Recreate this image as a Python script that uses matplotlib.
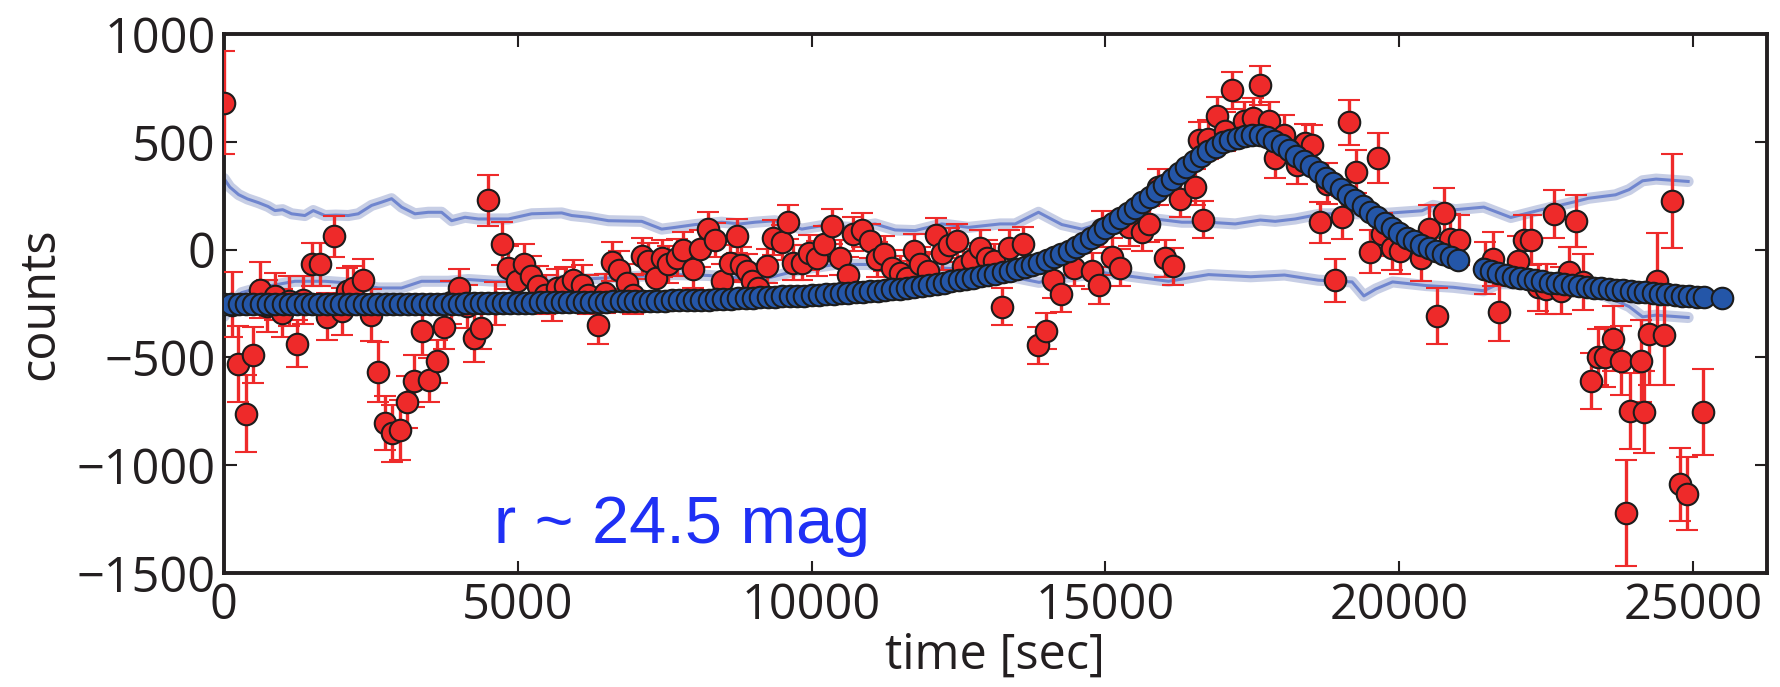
import matplotlib
matplotlib.use("Agg")
import matplotlib.pyplot as plt

plt.rcParams['font.family'] = ['Open Sans', 'DejaVu Sans']

# ---------------- data ----------------
t_obs = [0, 140, 244, 369, 488, 612, 740, 868, 981, 1110, 1237, 1349, 1492, 1634, 1747,
         1872, 2003, 2088, 2201, 2360, 2496, 2615, 2740, 2865, 2995, 3120, 3239, 3364,
         3495, 3619, 3744, 3870, 4000, 4130, 4250, 4380, 4500, 4620, 4726, 4840, 4981,
         5113, 5226, 5350, 5464, 5580, 5663, 5804, 5946, 6088, 6202, 6361, 6485, 6599,
         6724, 6854, 6967, 7108, 7222, 7352, 7449, 7562, 7704, 7817, 7987, 8101, 8232,
         8357, 8470, 8612, 8726, 8790, 8896, 8981, 9094, 9236, 9350, 9491, 9605, 9690,
         9832, 9957, 10087, 10218, 10354, 10484, 10615, 10711, 10853, 10995, 11108,
         11239, 11364, 11506, 11619, 11750, 11846, 11988, 12119, 12215, 12329, 12471,
         12584, 12726, 12868, 12981, 13110, 13236, 13350, 13605, 13860, 13985, 14115,
         14240, 14456, 14768, 14882, 14938, 15109, 15250, 15392, 15619, 15744, 15886,
         16016, 16141, 16272, 16516, 16595, 16652, 16743, 16896, 17027, 17152, 17350,
         17504, 17635, 17775, 17888, 18030, 18257, 18398, 18511, 18642, 18766, 18897,
         19022, 19147, 19261, 19505, 19636, 19704, 19874, 20016, 20373, 20498, 20640,
         20765, 20867, 21009, 21450, 21600, 21690, 22011, 22126, 22241, 22356, 22500,
         22632, 22759, 22891, 23006, 23132, 23264, 23379, 23506, 23638, 23764, 23860,
         23920, 24110, 24165, 24253, 24385, 24511, 24638, 24770, 24902, 25161]
counts = [681, -255, -530, -761, -491, -186, -262, -217, -295, -238, -436, -233, -69, -69,
          -311, 61, -287, -194, -178, -142, -303, -569, -806, -853, -837, -706, -611, -378,
          -605, -519, -359, -245, -178, -262, -410, -363, 228, -250, 28, -84, -147,
          -69, -123, -170, -209, -240, -178, -170, -139, -162, -209, -350, -202, -56,
          -95, -155, -209, -30, -53, -131, -41, -69, -37, -2, -92, 5, 95,
          44, -147, -61, 64, -70, -100, -147, -178, -77, 56, 33, 127, -61,
          -61, -14, -41, 28, 108, -37, -116, 72, 92, 41, -45,
          -19, -84, -108, -131, -6, -66, -100, 67, -14, 22, 41,
          -77, -50, 9, -37, -53, -264, 9, 25, -444, -378, -139,
          -205, -84, -100, -166, 95, -33, -84, 103, 80, 119, 291,
          -41, -77, 236, 291, 509, 139, 511, 619, 548, 739, 595,
          611, 763, 595, 423, 533, 392, 494, 486, 127, 306, -142,
          150, 591, 361, -9, 423, 72, 9, -6, -37, 95, -306,
          169, 48, 44, -86, -45, -288, -53, 44, 44, -175, -183,
          165, -191, -102, 133, -150, -608, -498, -498, -413, -515, -1223,
          -749, -515, -752, -393, -147, -398, 227, -1089, -1133, -752]
count_err = [239, 150, 175, 180, 130, 130, 120, 110, 110, 115, 110, 110, 100, 100, 110,
             95, 110, 110, 100, 100, 120, 140, 125, 130, 140, 120, 120, 110,
             100, 100, 100, 100, 90, 100, 110, 100, 120, 100, 100, 100, 95,
             95, 95, 95, 90, 90, 90, 90, 90, 90, 90, 90, 90, 90,
             90, 90, 90, 85, 85, 85, 85, 85, 85, 85, 85, 85, 80,
             80, 80, 80, 80, 80, 80, 80, 80, 80, 80, 80, 80, 80,
             80, 80, 80, 80, 80, 80, 80, 80, 80, 80, 80,
             80, 80, 80, 80, 80, 80, 80, 80, 80, 80, 80,
             80, 80, 80, 80, 80, 85, 80, 80, 85, 85, 85,
             85, 85, 85, 85, 85, 85, 85, 85, 85, 85, 85,
             85, 85, 85, 85, 85, 85, 90, 90, 90, 85, 90,
             90, 90, 90, 90, 90, 90, 90, 90, 95, 95, 100,
             100, 104, 100, 100, 116, 100, 105, 105, 110, 110, 130,
             115, 115, 115, 120, 125, 137, 115, 115, 115, 110, 115,
             113, 110, 115, 120, 130, 130, 130, 140, 150, 160, 245,
             175, 190, 190, 235, 226, 230, 218, 170, 170, 200]

model_t = [0, 125, 250, 375, 500, 625, 750, 875, 1000, 1125, 1250, 1375, 1500, 1625, 1750,
           1875, 2000, 2125, 2250, 2375, 2500, 2625, 2750, 2875, 3000, 3125, 3250, 3375,
           3500, 3625, 3750, 3875, 4000, 4125, 4250, 4375, 4500, 4625, 4750, 4875, 5000,
           5125, 5250, 5375, 5500, 5625, 5750, 5875, 6000, 6125, 6250, 6375, 6500, 6625,
           6750, 6875, 7000, 7125, 7250, 7375, 7500, 7625, 7750, 7875, 8000, 8125, 8250,
           8375, 8500, 8625, 8750, 8875, 9000, 9125, 9250, 9375, 9500, 9625, 9750, 9875,
           10000, 10125, 10250, 10375, 10500, 10625, 10750, 10875, 11000, 11125, 11250,
           11375, 11500, 11625, 11750, 11875, 12000, 12125, 12250, 12375, 12500, 12625,
           12750, 12875, 13000, 13125, 13250, 13375, 13500, 13625, 13750, 13875, 14000,
           14125, 14250, 14375, 14500, 14625, 14750, 14875, 15000, 15125, 15250, 15375,
           15500, 15625, 15750, 15875, 16000, 16125, 16250, 16375, 16500, 16625, 16750,
           16875, 17000, 17125, 17250, 17375, 17500, 17625, 17750, 17875, 18000, 18125,
           18250, 18375, 18500, 18625, 18750, 18875, 19000, 19125, 19250, 19375, 19500,
           19625, 19750, 19875, 20000, 20125, 20250, 20375, 20500, 20625, 20750, 20875,
           21000,
           21435, 21560, 21685, 21810, 21935, 22060, 22185, 22310, 22435, 22560, 22685,
           22810, 22935, 23060, 23185, 23310, 23435, 23560, 23685, 23810, 23935, 24060,
           24185, 24310, 24435, 24560, 24685, 24810, 24935, 25060, 25185, 25490]
model = [-253, -253, -253, -253, -253, -253, -253, -253, -253, -253, -253, -253, -253,
         -253, -253, -253, -252, -252, -252, -252, -252, -252, -252, -252, -252, -252,
         -252, -252, -252, -251, -251, -251, -251,
         -250, -250, -249, -249, -248, -248, -247, -247, -246, -246, -245, -245, -244,
         -244, -243, -243, -242, -242, -241, -241, -240, -240, -239, -239, -238, -238,
         -237, -237, -236, -236, -235, -235,
         -234, -232, -231, -229, -228, -226, -225, -224, -222, -220, -219, -217, -216,
         -214, -213, -211,
         -209, -207, -205, -203, -201, -199, -196, -193, -190, -187, -184, -181, -177,
         -173, -169, -163,
         -158, -153, -148, -143, -137, -131, -124, -117,
         -111, -105, -98, -90, -82, -73, -62, -50,
         -36, -21, -5, 12, 32, 52, 74, 98,
         122, 146, 170, 194, 219, 245, 271, 298,
         326, 354, 382, 410, 433, 456, 478, 497,
         509, 519, 526, 531, 531, 524, 506, 485,
         461, 436, 411, 386, 360, 334, 308, 282,
         255, 228, 201, 175, 149, 124, 100, 77,
         56, 38, 22, 8, -6, -20, -34, -48,
         -88, -100, -110, -119, -126, -132, -138, -143, -148, -153, -157, -161, -165,
         -169, -173, -176, -180, -183, -186, -189, -192, -195, -198, -201, -204, -207,
         -210, -213, -215, -218, -220, -225]

upper_t = [0, 100, 250, 400, 584, 750, 868, 1000, 1152, 1378, 1520, 1719, 1900, 2116,
           2286, 2513, 2683, 2853, 3023, 3250, 3477, 3704, 3875, 4102, 4329, 4840, 5237,
           5748, 5918, 6202, 6542, 7109, 7449, 7676, 8016, 8470, 8782, 9038, 9378, 9832,
           10172, 10683, 11080, 11420, 11761, 12215, 12669, 13208, 13463, 13860, 14257,
           14598, 14995, 15392, 15846, 16300, 16754, 17208, 17635, 17888, 18228, 18682,
           19250, 19817, 20384, 20575, 20952, 21437, 21897, 22356, 22988, 23218, 23678,
           23908, 24138, 24368, 24914]
upper = [330, 290, 255, 235, 218, 200, 181, 185, 166, 158, 181, 158, 160, 158,
         166, 205, 220, 236, 197, 166, 173, 173, 134, 150, 142, 142, 166,
         170, 158, 150, 134, 131, 95, 103, 116, 127, 119, 127, 134, 95,
         111, 103, 119, 91, 88, 119, 103, 119, 119, 173, 116,
         95, 127, 150, 142, 127, 127, 119, 137, 131, 142, 166,
         166, 169, 180, 205, 185, 197, 149, 181, 222, 238, 254,
         278, 319, 327, 316]

lower_t = [0, 150, 300, 584, 1208, 1719, 2116, 2627, 3023, 3364, 3817, 4159, 4612, 5407,
           6542, 7109, 7676, 8243, 8782, 9265, 9832, 10399, 10967, 11534, 12101, 12669,
           13208, 13871, 14257, 14995, 15619, 16073, 16754, 17471, 18046, 18621, 19196,
           19397, 19598, 19885, 20460, 20920, 21437, 21695, 22000, 22500, 23000, 23500,
           23908, 24138, 24368, 24914]
lower = [-310, -250, -200, -178, -147, -147, -155, -178, -178, -147, -147, -139, -147, -147,
         -131, -123, -116, -120, -131, -131, -92, -69, -69, -84, -84, -92,
         -116, -152, -131, -108, -131, -147, -116, -126, -118, -142, -150,
         -215, -183, -150, -167, -175, -191, -158, -160, -175, -190, -215,
         -264, -312, -304, -315]

x_ticks = [0, 5000, 10000, 15000, 20000, 25000]
y_ticks = [-1500, -1000, -500, 0, 500, 1000]
label_text = 'r ~ 24.5 mag'

# ---------------- figure ----------------
fig = plt.figure(figsize=(17.8, 6.87), dpi=100)
ax = fig.add_axes([0.1258, 0.166, 0.8667, 0.7845])

for bt, bv in ((upper_t, upper), (lower_t, lower)):
    ax.plot(bt, bv, color='#a3aed4', lw=8, alpha=0.6, solid_capstyle='round',
            solid_joinstyle='round', zorder=1)
    ax.plot(bt, bv, color='#6079cb', lw=2.2, alpha=0.85, zorder=1.1)

ax.errorbar(t_obs, counts, yerr=count_err, fmt='o', ms=15.5, mfc='#ee2a2a', mec='#1c1c1c',
            mew=1.5, ecolor='#ee2a2a', elinewidth=2.4, capsize=8, capthick=2.2, zorder=3)

ax.plot(model_t, model, 'o', ms=15.5, mfc='#2456a8', mec='#1c1c1c', mew=1.5, zorder=4)

ax.text(4600, -1360, label_text, color='#1f30f5', fontsize=48,
        family=['Liberation Sans', 'DejaVu Sans'], ha='left', va='baseline', zorder=5)

ax.set_xlim(0, 26250)
ax.set_ylim(-1500, 1000)
ax.set_xticks(x_ticks)
ax.set_yticks(y_ticks)
ax.tick_params(direction='in', length=9, width=1.5, top=True, right=True,
               labelsize=35, pad=6, colors='#231f20')
for sp in ax.spines.values():
    sp.set_linewidth(2.8)
    sp.set_color('#231f20')

ax.set_xlabel('time [sec]', fontsize=35, labelpad=0, color='#231f20')
ax.set_ylabel('counts', fontsize=35, labelpad=8, color='#231f20')

fig.savefig('out.png', dpi=100)
